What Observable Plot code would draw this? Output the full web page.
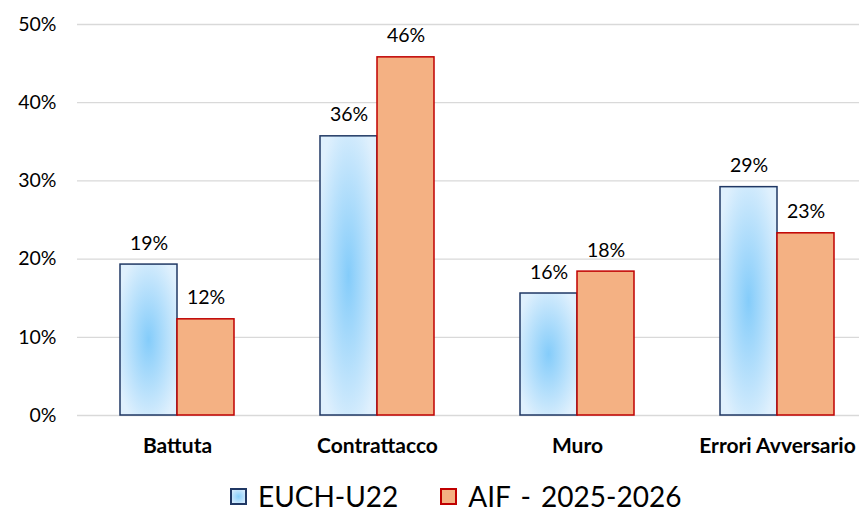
<!DOCTYPE html>
<html>
<head>
<meta charset="utf-8">
<script src="https://cdn.jsdelivr.net/npm/d3@7"></script>
<script src="https://cdn.jsdelivr.net/npm/@observablehq/plot@0.6"></script>
<style>
  body { margin: 0; background: #fff; font-family: Lato, sans-serif; }
  #chart svg { display: block; }
  .legend { display: flex; justify-content: flex-start; align-items: center; height: 42px; padding-top: 10px; padding-left: 230px; box-sizing: border-box; font-family: Lato, sans-serif; font-size: 28px; color: #000; }
  .item { display: flex; align-items: center; margin-right: 42px; }
  .sw { width: 17px; height: 17px; margin-right: 11px; box-sizing: border-box; }
</style>
</head>
<body>
<div id="chart"></div>
<div class="legend">
  <div class="item"><div class="sw" style="border:2px solid #203864;background:radial-gradient(circle,#87CEFA,#DDEEFD);"></div><span>EUCH-U22</span></div>
  <div class="item"><div class="sw" style="border:2px solid #C00000;background:#F4B183;"></div><span style="word-spacing:3px">AIF - 2025-2026</span></div>
</div>
<script>
const categories = ["Battuta", "Contrattacco", "Muro", "Errori Avversario"];
const series = ["EUCH-U22", "AIF - 2025-2026"];
const euchValues = [19.3, 35.7, 15.6, 29.2];
const aifValues = [12.3, 45.8, 18.4, 23.3];
const yTicks = [0, 10, 20, 30, 40, 50];

const euch = categories.map((c, i) => ({category: c, value: euchValues[i]}));
const aif = categories.map((c, i) => ({category: c, value: aifValues[i]}));

const half = 57;
const plot = Plot.plot({
  width: 859,
  height: 470,
  marginLeft: 77,
  marginRight: 0,
  marginTop: 24,
  marginBottom: 55,
  style: {fontFamily: "Lato, sans-serif", background: "#fff"},
  x: {domain: categories, range: [77, 877], paddingInner: 0.43, paddingOuter: 0.215, round: false, label: null},
  y: {domain: [0, 50], label: null},
  marks: [
    Plot.ruleY(yTicks, {stroke: "#d9d9d9", strokeWidth: 1.3}),
    Plot.barY(euch, {x: "category", y: "value", insetRight: half, fill: "url(#blueGrad)", stroke: "#203864", strokeWidth: 1.5}),
    Plot.barY(aif, {x: "category", y: "value", insetLeft: half, fill: "#F4B183", stroke: "#C00000", strokeWidth: 1.5}),
    Plot.text(euch, {x: "category", y: "value", dx: -half / 2, dy: -15, text: d => Math.round(d.value) + "%", lineAnchor: "bottom", fontSize: 19.5, fill: "#000"}),
    Plot.text(aif, {x: "category", y: "value", dx: half / 2, dy: -15, text: d => Math.round(d.value) + "%", lineAnchor: "bottom", fontSize: 19.5, fill: "#000"}),
    Plot.axisY({ticks: yTicks, tickFormat: d => d + "%", tickSize: 0, tickPadding: 21, fontSize: 19.5, fill: "#000"}),
    Plot.axisX({tickSize: 0, tickPadding: 23, fontSize: 21, fontWeight: "bold", fill: "#000"})
  ]
});

const ns = "http://www.w3.org/2000/svg";
const defs = document.createElementNS(ns, "defs");
defs.innerHTML = `<radialGradient id="blueGrad" cx="0.5" cy="0.5" r="0.6">
  <stop offset="0" stop-color="#84CCFA"/>
  <stop offset="1" stop-color="#DFF0FD"/>
</radialGradient>`;
plot.insertBefore(defs, plot.firstChild);
document.getElementById("chart").appendChild(plot);
</script>
</body>
</html>
